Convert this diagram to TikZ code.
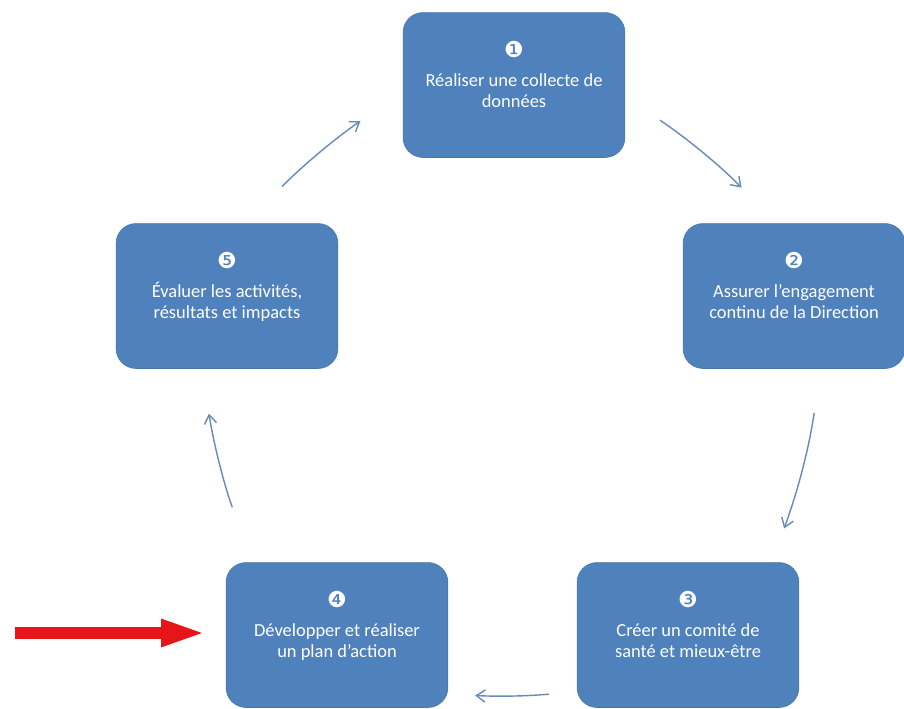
\documentclass[tikz,border=0pt]{standalone}
\usepackage{fontspec}
\setmainfont{Carlito}
\newfontfamily\numfont{DejaVu Sans}
\usepackage{tikz}
\usetikzlibrary{arrows.meta}
\usepackage{xcolor}
\definecolor{boxblue}{RGB}{79,129,189}
\definecolor{flowblue}{RGB}{104,138,184}
\definecolor{pointred}{RGB}{230,22,24}

\newcommand{\stepno}[1]{{\numfont\fontsize{12.5}{12}\selectfont\textcolor{white}{#1}}}

\begin{document}
\begin{tikzpicture}[x=0.02cm,y=-0.02cm,
	stepbox/.style={rectangle,rounded corners=0.4cm,fill=boxblue,draw=boxblue!90!black,
		line width=0.3pt,minimum width=4.44cm,minimum height=2.9cm,align=center,
		text=white,font=\fontsize{10.5}{12}\selectfont},
	flow/.style={draw=flowblue,line width=0.8pt,-{Straight Barb[length=5pt,width=7pt]}},
	pointer/.style={draw=pointred,line width=6.5pt,-{Triangle[length=26pt,width=14pt]}}]
	\useasboundingbox (0,0) rectangle (904,708);
	
	\node[stepbox] (n1) at (514,85) {\stepno{❶}\\[4pt]Réaliser une collecte de\\données\\\mbox{}};
	\node[stepbox] (n2) at (794,296) {\stepno{❷}\\[4pt]Assurer l'engagement\\continu de la Direction\\\mbox{}};
	\node[stepbox] (n3) at (688,635) {\stepno{❸}\\[4pt]Créer un comité de\\santé et mieux-être\\\mbox{}};
	\node[stepbox] (n4) at (337,635) {\stepno{❹}\\[4pt]Développer et réaliser\\un plan d'action\\\mbox{}};
	\node[stepbox] (n5) at (227,296) {\stepno{❺}\\[4pt]Évaluer les activités,\\résultats et impacts\\\mbox{}};
	
	\draw[flow,shorten <=0.84cm,shorten >=0.99cm] (n1.-6) to[bend left=6] (n2.104);
	\draw[flow,shorten <=0.89cm,shorten >=0.72cm] (n2.-70) to[bend left=6] (n3.41);
	\draw[flow,shorten <=0.56cm,shorten >=0.54cm] (n3.207) to[bend left=4] (n4.-28);
	\draw[flow,shorten <=1.18cm,shorten >=0.91cm] (n4.139) to[bend left=6] (n5.-109);
	\draw[flow,shorten <=1.02cm,shorten >=1.02cm] (n5.75) to[bend left=6] (n1.184);
	
	\coordinate (tail) at (15,633);
	\draw[pointer,shorten >=0.38cm] (tail) -- (n4.west |- tail);
\end{tikzpicture}
\end{document}
